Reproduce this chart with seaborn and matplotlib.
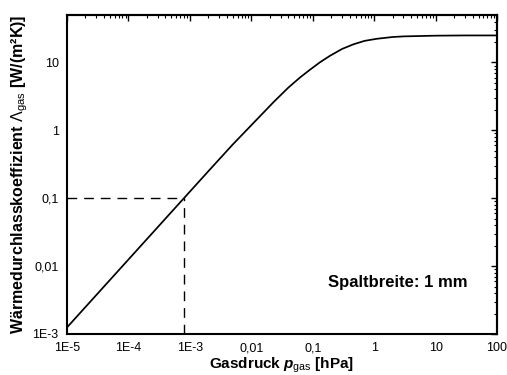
import pandas as pd
import numpy as np
import matplotlib
matplotlib.use('Agg')
import matplotlib.pyplot as plt
import seaborn as sns
from matplotlib.ticker import FixedLocator, FixedFormatter, LogLocator, NullFormatter

###############################################################
# values
pressure = [1e-5, 1e-4, 1e-3, 2e-3, 5e-3, 0.011, 0.023, 0.04, 0.062, 0.09, 0.13, 0.19,
            0.3, 0.46, 0.7, 1.1, 2.0, 3.0, 10.0, 30.0, 100.0]
coeff = [1.25e-3, 0.0125, 0.125, 0.25, 0.62, 1.3, 2.6, 4.25, 6.0, 7.8, 10.0, 12.5,
         15.8, 18.5, 20.8, 22.3, 23.7, 24.2, 24.8, 25.0, 25.0]

mark_p = 8e-4
mark_val = 0.1

x_ticks = [1e-5, 1e-4, 1e-3, 1e-2, 1e-1, 1, 10, 100]
x_labels = ['1E-5', '1E-4', '1E-3', '0,01', '0,1', '1', '10', '100']
y_ticks = [1e-3, 1e-2, 1e-1, 1, 10]
y_labels = ['1E-3', '0,01', '0,1', '1', '10']

df = pd.DataFrame({'p': pressure, 'lam': coeff})

###############################################################
sns.set_style('white')
plt.rcParams['font.family'] = ['Liberation Sans', 'DejaVu Sans']
plt.rcParams['mathtext.fontset'] = 'custom'
plt.rcParams['mathtext.rm'] = 'Liberation Sans'
plt.rcParams['mathtext.it'] = 'Liberation Sans:italic:bold'
plt.rcParams['mathtext.bf'] = 'Liberation Sans:bold'
plt.rcParams['text.color'] = 'black'
plt.rcParams['axes.labelcolor'] = 'black'
plt.rcParams['xtick.color'] = 'black'
plt.rcParams['ytick.color'] = 'black'

fig, ax = plt.subplots(figsize=(5.07, 3.75), dpi=100)
fig.subplots_adjust(left=67/507, right=497/507, bottom=1-334/375, top=1-15/375)

sns.lineplot(data=df, x='p', y='lam', color='black', linewidth=1.25, sort=False, estimator=None, ax=ax)

# dashed guide lines
ax.plot([x_ticks[0], mark_p], [mark_val, mark_val], color='black', linewidth=1.0, linestyle=(0, (7, 5)))
ax.plot([mark_p, mark_p], [y_ticks[0], mark_val], color='black', linewidth=1.0, linestyle=(0, (7, 5)))

ax.set_xscale('log')
ax.set_yscale('log')
ax.set_xlim(1e-5, 100)
ax.set_ylim(1e-3, 50)

ax.xaxis.set_major_locator(FixedLocator(x_ticks))
ax.xaxis.set_major_formatter(FixedFormatter(x_labels))
ax.yaxis.set_major_locator(FixedLocator(y_ticks))
ax.yaxis.set_major_formatter(FixedFormatter(y_labels))
ax.xaxis.set_minor_locator(LogLocator(base=10, subs=np.arange(2, 10), numticks=20))
ax.yaxis.set_minor_locator(LogLocator(base=10, subs=np.arange(2, 10), numticks=20))
ax.xaxis.set_minor_formatter(NullFormatter())
ax.yaxis.set_minor_formatter(NullFormatter())

ax.tick_params(which='major', direction='out', length=4, width=1, labelsize=9, pad=2, colors='black')
ax.tick_params(which='minor', direction='out', length=2.5, width=0.8)

# mirrored ticks on top and right, pointing inwards
for side in ['top', 'right']:
    if side == 'top':
        sec = ax.secondary_xaxis('top')
        sec.xaxis.set_major_locator(FixedLocator(x_ticks))
        sec.xaxis.set_minor_locator(LogLocator(base=10, subs=np.arange(2, 10), numticks=20))
        sec.xaxis.set_major_formatter(NullFormatter())
        sec.xaxis.set_minor_formatter(NullFormatter())
    else:
        sec = ax.secondary_yaxis('right')
        sec.yaxis.set_major_locator(FixedLocator(y_ticks))
        sec.yaxis.set_minor_locator(LogLocator(base=10, subs=np.arange(2, 10), numticks=20))
        sec.yaxis.set_major_formatter(NullFormatter())
        sec.yaxis.set_minor_formatter(NullFormatter())
    sec.tick_params(which='major', direction='in', length=4, width=1)
    sec.tick_params(which='minor', direction='in', length=2.5, width=0.8)
    for sp in sec.spines.values():
        sp.set_linewidth(1.5)

for sp in ax.spines.values():
    sp.set_visible(True)
    sp.set_color('black')
    sp.set_linewidth(1.5)

ax.set_xlabel(r'Gasdruck $p_{\mathrm{gas}}$ [hPa]', fontsize=11, fontweight='bold', labelpad=1)
ax.set_ylabel(r'Wärmedurchlasskoeffizient $\Lambda_{\mathrm{gas}}$ [W/(m²K)]', fontsize=11.5,
              fontweight='bold', labelpad=2)

ax.text(0.607, 0.163, 'Spaltbreite: 1 mm', transform=ax.transAxes, fontsize=12, fontweight='bold',
        ha='left', va='center')

plt.savefig('out.png', dpi=100)
